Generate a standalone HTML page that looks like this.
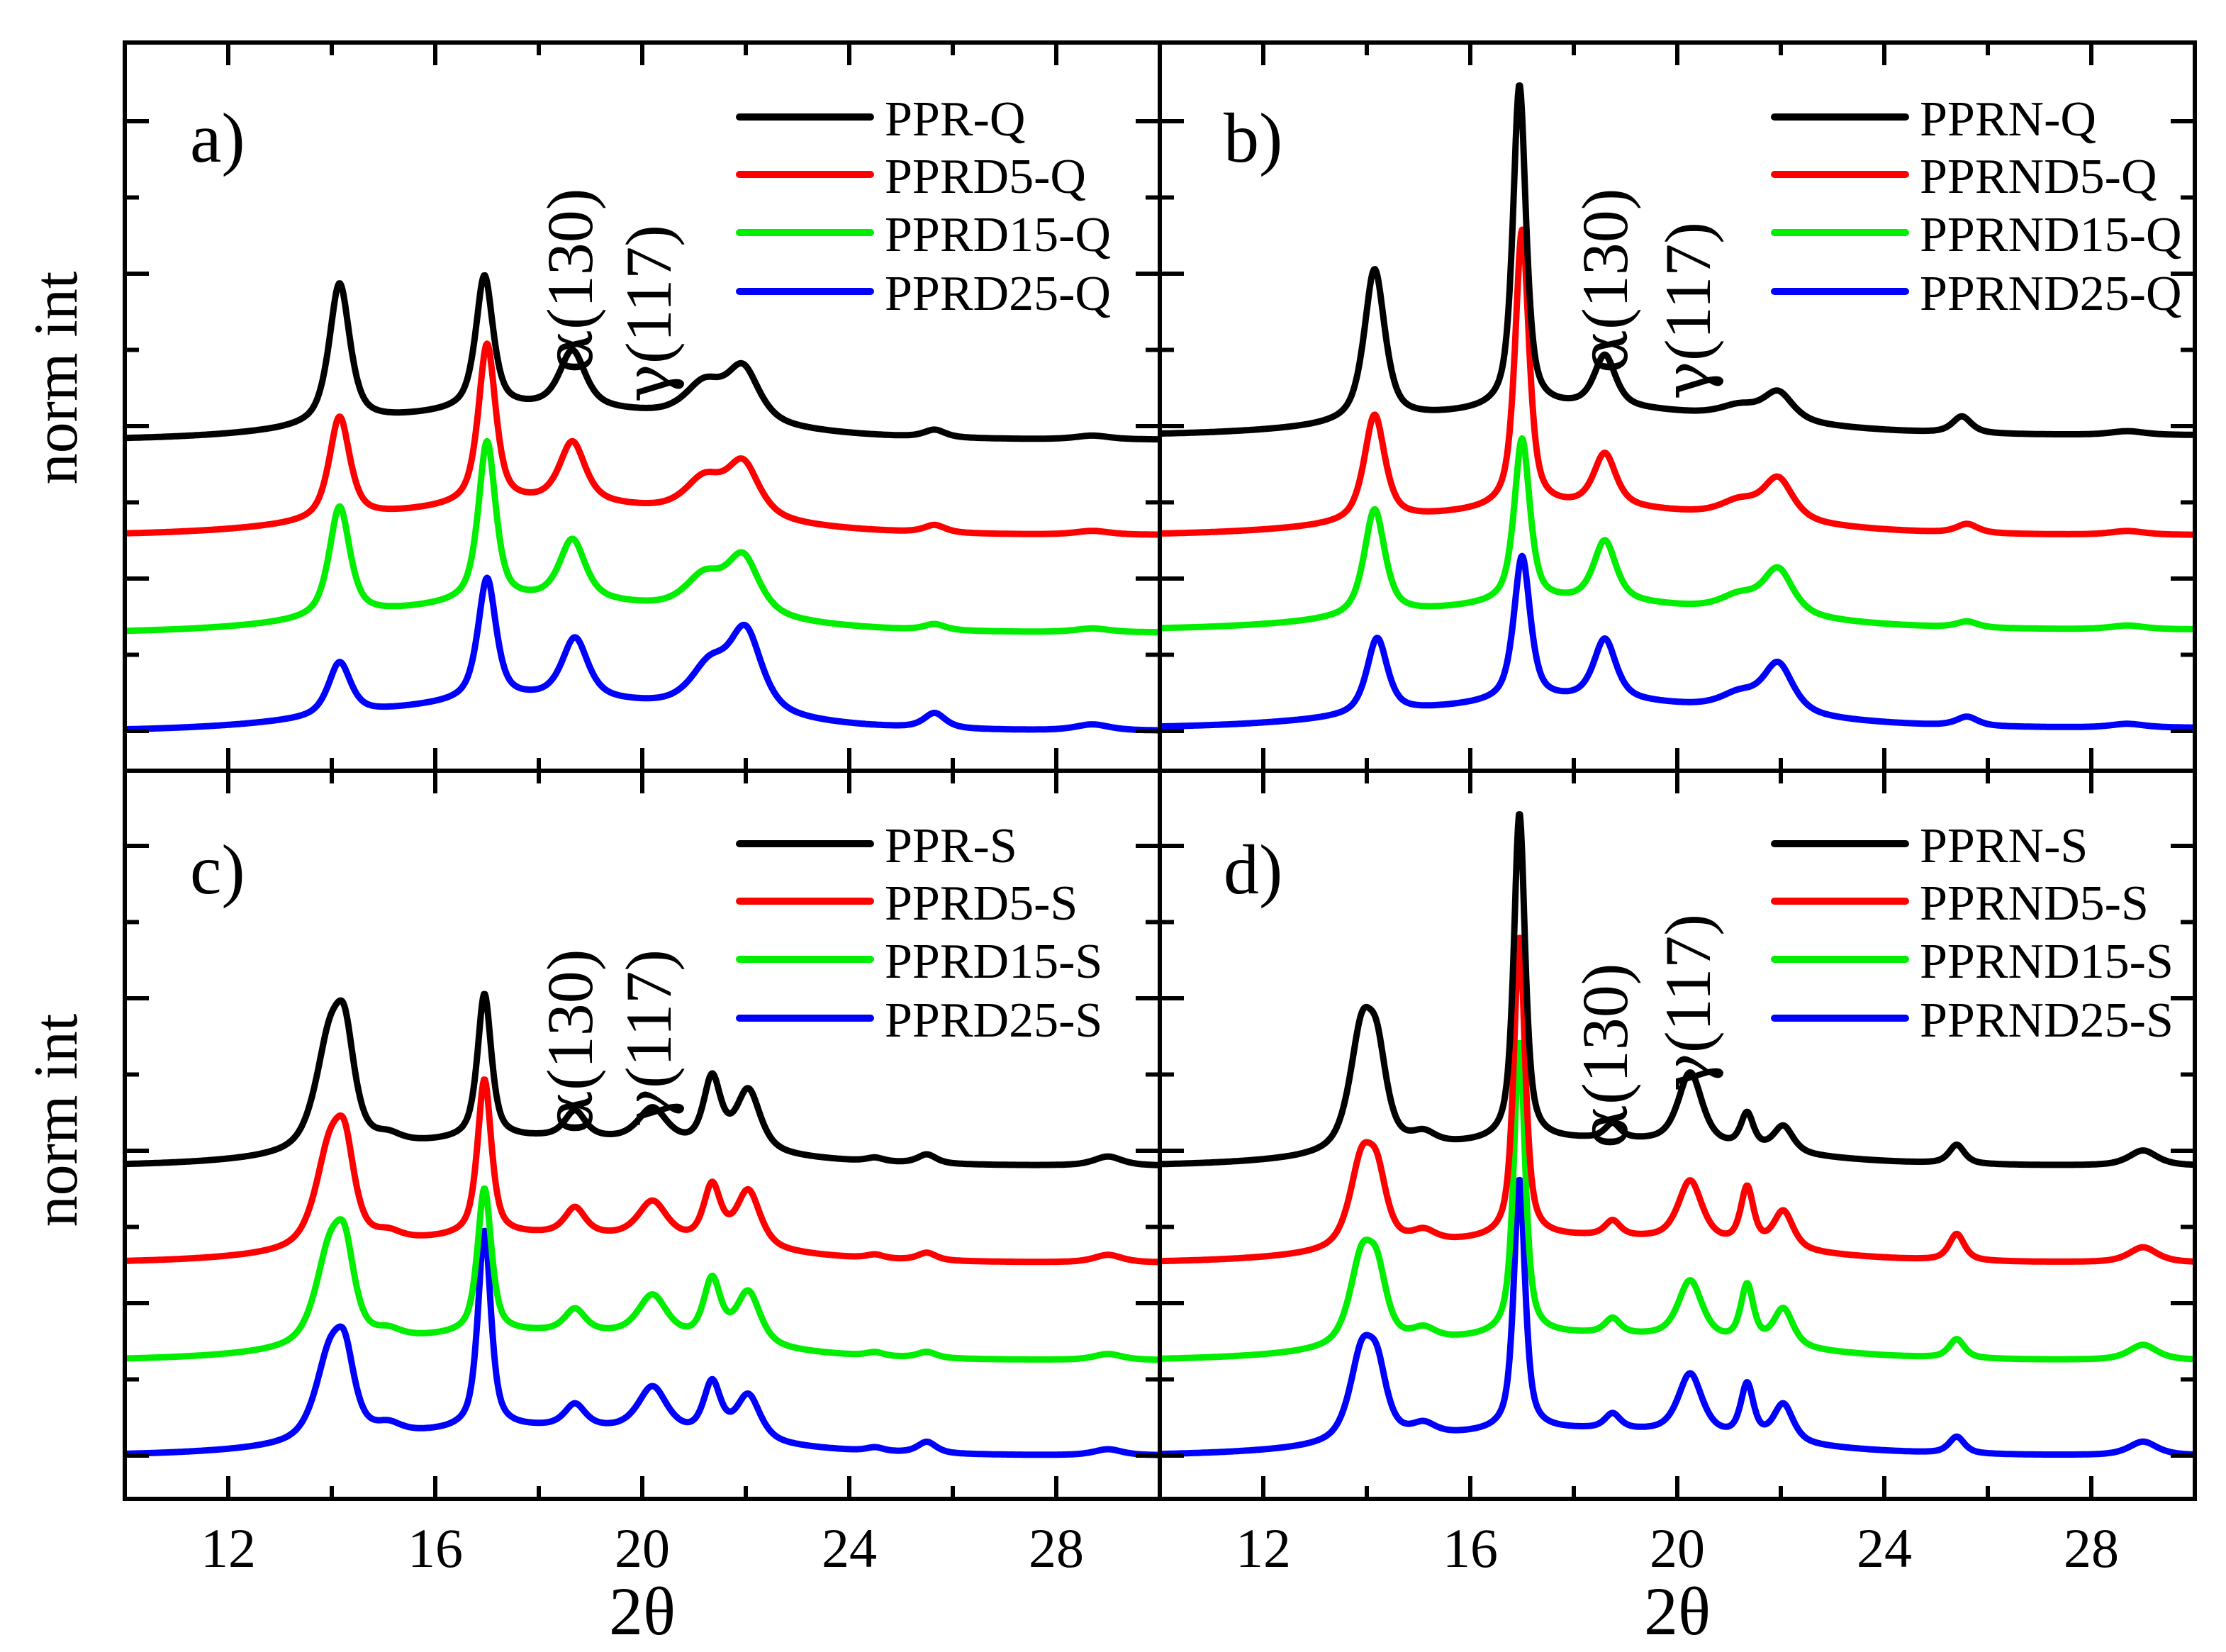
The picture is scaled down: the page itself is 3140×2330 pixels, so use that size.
<!DOCTYPE html>
<html><head><meta charset="utf-8"><style>
html,body{margin:0;padding:0;background:#fff;}
svg{display:block;}
text{font-family:"Liberation Serif","Times New Roman",serif;}
tspan.gk{font-family:"DejaVu Serif",serif;}
</style></head><body>
<svg id="fig" width="3140" height="2330" viewBox="0 0 3140 2330" xmlns="http://www.w3.org/2000/svg" font-family="Liberation Serif, serif"></svg>
<script>
// ---- data (peaks: [center 2θ, height, half-width]) ----
const xTicks = [12, 16, 20, 24, 28];
const xTickLabels = ["12", "16", "20", "24", "28"];
const seriesColors = ["#000000", "#ff0000", "#00ee00", "#0000ff"];
const panelLabels = ["a)", "b)", "c)", "d)"];
const legendA = ["PPR-Q", "PPRD5-Q", "PPRD15-Q", "PPRD25-Q"];
const legendB = ["PPRN-Q", "PPRND5-Q", "PPRND15-Q", "PPRND25-Q"];
const legendC = ["PPR-S", "PPRD5-S", "PPRD15-S", "PPRD25-S"];
const legendD = ["PPRN-S", "PPRND5-S", "PPRND15-S", "PPRND25-S"];
const offsetsA = [3.82, 2.57, 1.29, 0.0];
const offsetsB = [3.88, 2.57, 1.33, 0.04];
const offsetsC = [3.8, 2.53, 1.25, 0.0];
const offsetsD = [3.8, 2.53, 1.25, 0.0];
const humpA = [0.4, 0.4, 0.4, 0.4];
const humpB = [0.35, 0.35, 0.35, 0.35];
const humpC = [0.35, 0.35, 0.35, 0.35];
const humpD = [0.33, 0.33, 0.33, 0.33];
const peaksA0 = [[14.15,1.85,0.24],[16.95,1.75,0.2],[18.65,0.75,0.3],[21.2,0.45,0.45],[21.95,0.7,0.38],[25.65,0.1,0.25],[28.7,0.05,0.4]];
const peaksA1 = [[14.15,1.35,0.24],[17.0,2.1,0.2],[18.65,0.8,0.3],[21.2,0.45,0.45],[21.95,0.7,0.38],[25.65,0.1,0.25],[28.7,0.05,0.4]];
const peaksA2 = [[14.15,1.45,0.24],[17.0,2.1,0.2],[18.65,0.8,0.3],[21.2,0.45,0.45],[21.95,0.75,0.38],[25.65,0.08,0.25],[28.7,0.05,0.4]];
const peaksA3 = [[14.15,0.7,0.26],[17.0,1.6,0.21],[18.7,0.8,0.3],[21.3,0.55,0.45],[22.0,1.05,0.38],[25.65,0.2,0.25],[28.7,0.08,0.4]];
const peaksB0 = [[14.15,2.0,0.24],[16.95,4.25,0.15],[18.6,0.68,0.25],[21.2,0.15,0.45],[21.95,0.38,0.35],[25.5,0.22,0.22],[28.7,0.05,0.4]];
const peaksB1 = [[14.15,1.4,0.24],[17.0,3.65,0.16],[18.6,0.7,0.26],[21.2,0.2,0.45],[21.95,0.55,0.35],[25.6,0.12,0.25],[28.7,0.05,0.4]];
const peaksB2 = [[14.15,1.4,0.24],[17.0,2.15,0.18],[18.6,0.8,0.26],[21.2,0.2,0.45],[21.95,0.6,0.35],[25.6,0.08,0.25],[28.7,0.05,0.4]];
const peaksB3 = [[14.2,1.0,0.24],[17.0,1.9,0.19],[18.6,0.8,0.26],[21.2,0.2,0.45],[21.95,0.65,0.35],[25.6,0.12,0.25],[28.7,0.05,0.4]];
const peaksC0 = [[13.95,1.35,0.33],[14.25,1.15,0.23],[15.1,0.1,0.3],[16.95,1.9,0.16],[18.7,0.35,0.24],[20.2,0.45,0.34],[21.35,0.9,0.2],[22.05,0.8,0.28],[24.5,0.05,0.2],[25.5,0.12,0.22],[29.0,0.12,0.33]];
const peaksC1 = [[13.95,1.2,0.33],[14.25,1.0,0.23],[15.1,0.1,0.3],[16.95,2.05,0.16],[18.7,0.35,0.24],[20.2,0.5,0.34],[21.35,0.75,0.2],[22.05,0.75,0.28],[24.5,0.05,0.2],[25.5,0.1,0.22],[29.0,0.1,0.33]];
const peaksC2 = [[13.95,1.15,0.33],[14.25,0.95,0.23],[15.1,0.1,0.3],[16.95,1.9,0.16],[18.7,0.3,0.24],[20.2,0.55,0.34],[21.35,0.8,0.2],[22.05,0.7,0.28],[24.5,0.05,0.2],[25.5,0.08,0.22],[29.0,0.08,0.33]];
const peaksC3 = [[13.95,1.05,0.33],[14.25,0.85,0.23],[15.1,0.12,0.3],[16.95,2.6,0.15],[18.7,0.3,0.24],[20.2,0.6,0.34],[21.35,0.7,0.2],[22.05,0.6,0.28],[24.5,0.05,0.2],[25.5,0.15,0.22],[29.0,0.08,0.33]];
const peaksD0 = [[13.9,1.5,0.28],[14.2,1.0,0.23],[15.1,0.15,0.28],[16.95,4.3,0.13],[18.75,0.2,0.18],[20.25,0.95,0.28],[21.35,0.45,0.15],[22.05,0.35,0.23],[25.4,0.25,0.18],[29.0,0.2,0.33]];
const peaksD1 = [[13.9,1.1,0.28],[14.2,0.75,0.23],[15.1,0.15,0.28],[16.95,3.95,0.13],[18.75,0.2,0.18],[20.25,0.8,0.28],[21.35,0.75,0.15],[22.05,0.5,0.23],[25.4,0.35,0.18],[29.0,0.2,0.33]];
const peaksD2 = [[13.9,1.1,0.28],[14.2,0.75,0.23],[15.1,0.15,0.28],[16.95,3.85,0.13],[18.75,0.2,0.18],[20.25,0.77,0.28],[21.35,0.75,0.15],[22.05,0.5,0.23],[25.4,0.25,0.18],[29.0,0.2,0.33]];
const peaksD3 = [[13.9,1.1,0.28],[14.2,0.75,0.23],[15.1,0.15,0.28],[16.95,3.3,0.13],[18.75,0.2,0.18],[20.25,0.8,0.28],[21.35,0.7,0.15],[22.05,0.5,0.23],[25.4,0.22,0.18],[29.0,0.18,0.33]];

const panels = [
 {x0:176,x1:1636,y0:60,y1:1087,zero:1031,leg:legendA,off:offsetsA,hump:humpA,peaks:[peaksA0,peaksA1,peaksA2,peaksA3],
  lab:[268,228],ann:[[835,527],[946,568]],name:"panel-a"},
 {x0:1636,x1:3096,y0:60,y1:1087,zero:1031,leg:legendB,off:offsetsB,hump:humpB,peaks:[peaksB0,peaksB1,peaksB2,peaksB3],
  lab:[1726,228],ann:[[2295,527],[2412,564]],name:"panel-b"},
 {x0:176,x1:1636,y0:1087,y1:2114,zero:2053,leg:legendC,off:offsetsC,hump:humpC,peaks:[peaksC0,peaksC1,peaksC2,peaksC3],
  lab:[268,1260],ann:[[835,1600],[946,1590]],name:"panel-c"},
 {x0:1636,x1:3096,y0:1087,y1:2114,zero:2053,leg:legendD,off:offsetsD,hump:humpD,peaks:[peaksD0,peaksD1,peaksD2,peaksD3],
  lab:[1726,1260],ann:[[2295,1620],[2412,1540]],name:"panel-d"}
];
const UNIT = 107.5;
const NS = "http://www.w3.org/2000/svg";
const svg = document.getElementById("fig");
function mk(tag, attrs, parent){ const e=document.createElementNS(NS,tag); for(const k in attrs) e.setAttribute(k,attrs[k]); (parent||svg).appendChild(e); return e; }
function model(x, off, hump, peaks){
  let y = off + hump*Math.exp(-Math.pow(x-18,2)/(2*3.2*3.2));
  for(const p of peaks){ const u=(x-p[0])/p[2]; y += p[1]*(0.7/(1+u*u) + 0.3*Math.exp(-0.693*u*u)); }
  return y;
}
function greekLabel(parent, x, y, greek, rest){
  const t = mk("text",{transform:`translate(${x},${y}) rotate(-90)`,"font-size":92},parent);
  const s1 = mk("tspan",{"class":"gk"},t); s1.textContent = greek;
  const s2 = mk("tspan",{},t); s2.textContent = rest;
  return t;
}
panels.forEach((P,pi)=>{
  const sx = x => P.x0 + (x-10)/20*(P.x1-P.x0);
  const sy = v => P.zero - v*UNIT;
  const g = mk("g",{});
  
  
  mk("clipPath",{id:"clip"+pi},g);
  mk("rect",{x:P.x0,y:P.y0,width:P.x1-P.x0,height:P.y1-P.y0},g.lastChild);
  for(let s=3;s>=0;s--){
    let d="";
    for(let i=0;i<=1000;i++){ const x=10+i*0.02; d+=(i?"L":"M")+sx(x).toFixed(1)+","+sy(model(x,P.off[s],P.hump[s],P.peaks[s])).toFixed(1); }
    const path = mk("path",{d:d,fill:"none",stroke:seriesColors[s],"stroke-width":9,"stroke-linejoin":"round","clip-path":"url(#clip"+pi+")"},g);
    
    
  }
  const fr = mk("rect",{x:P.x0,y:P.y0,width:P.x1-P.x0,height:P.y1-P.y0,fill:"none",stroke:"#000","stroke-width":6},g);
  
  
  for(let t=12;t<=28;t+=2){
    const len = (t%4===0)?32:18; const X=sx(t);
    mk("line",{x1:X,x2:X,y1:P.y1,y2:P.y1-len,stroke:"#000","stroke-width":6},g);
    mk("line",{x1:X,x2:X,y1:P.y0,y2:P.y0+len,stroke:"#000","stroke-width":6},g);
  }
  for(let v=0;v<=8;v++){
    const Y=sy(v); const len=(v%2===0)?34:20;
    mk("line",{x1:P.x0,x2:P.x0+len,y1:Y,y2:Y,stroke:"#000","stroke-width":6},g);
    mk("line",{x1:P.x1,x2:P.x1-len,y1:Y,y2:Y,stroke:"#000","stroke-width":6},g);
  }
  const pl = mk("text",{x:P.lab[0],y:P.lab[1],"font-size":100},g);
  pl.textContent = panelLabels[pi];
  
  
  const lx = P.x0 + 867;
  const dy = P.y0 - 60 + (pi>=2 ? -2 : 0);
  [165,246,328,411].forEach((ly0,s)=>{
    const ly = ly0 + dy;
    const lg = mk("g",{},g);
    
    
    mk("line",{x1:lx,x2:lx+185,y1:ly,y2:ly,stroke:seriesColors[s],"stroke-width":10,"stroke-linecap":"round"},lg);
    const t = mk("text",{x:lx+205,y:ly+26,"font-size":70},lg);
    t.textContent = P.leg[s];
  });
  const a1 = greekLabel(g, P.ann[0][0], P.ann[0][1], "α", "(130)");
  
  
  const a2 = greekLabel(g, P.ann[1][0], P.ann[1][1], "γ", "(117)");
  
  
  if(pi>=2){
    xTicks.forEach((t,i)=>{
      const tl = mk("text",{x:sx(t),y:2210,"font-size":78,"text-anchor":"middle"},g);
      tl.textContent = xTickLabels[i];
      
      
    });
    const xt = mk("text",{x:sx(20),y:2305,"font-size":96,"text-anchor":"middle"},g);
    xt.textContent = "2θ";
    
    
  }
  if(pi%2===0){
    const yt = mk("text",{transform:`translate(108,${pi===0?533:1580}) rotate(-90)`,"font-size":88,"text-anchor":"middle"},g);
    yt.textContent = "norm int";
    
    
  }
});
</script>
</body></html>
